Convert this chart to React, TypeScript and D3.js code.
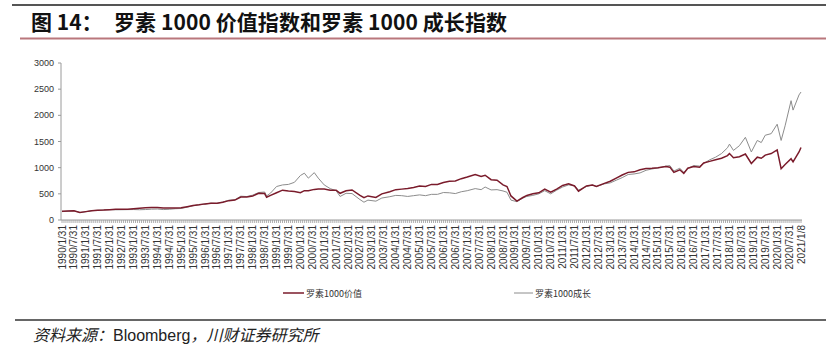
import React from "react";
import * as d3 from "d3";

const dates = [
  "1990-01","1990-04","1990-07","1990-10","1991-01","1991-04","1991-07","1991-10",
  "1992-01","1992-04","1992-07","1992-10","1993-01","1993-04","1993-07","1993-10",
  "1994-01","1994-04","1994-07","1994-10","1995-01","1995-04","1995-07","1995-10",
  "1996-01","1996-04","1996-07","1996-10","1997-01","1997-04","1997-07","1997-10",
  "1998-01","1998-04","1998-07","1998-08","1998-10","1999-01","1999-04","1999-07","1999-10",
  "2000-01","2000-03","2000-05","2000-08","2000-10","2001-01","2001-04","2001-07","2001-09","2001-12",
  "2002-03","2002-07","2002-09","2002-11","2003-03","2003-06","2003-10",
  "2004-01","2004-04","2004-07","2004-10","2005-01","2005-04","2005-07","2005-10",
  "2006-01","2006-04","2006-07","2006-10","2007-01","2007-05","2007-08","2007-10",
  "2008-01","2008-04","2008-07","2008-09","2008-11","2009-02","2009-05","2009-07","2009-10",
  "2010-01","2010-04","2010-07","2010-10","2011-01","2011-04","2011-07","2011-09",
  "2012-01","2012-04","2012-06","2012-10","2013-01","2013-04","2013-07","2013-10",
  "2014-01","2014-04","2014-07","2014-10","2015-01","2015-05","2015-07","2015-09","2015-12",
  "2016-02","2016-04","2016-07","2016-10","2016-12","2017-03","2017-06","2017-09","2017-12",
  "2018-01","2018-03","2018-06","2018-09","2018-12","2019-03","2019-05","2019-07","2019-10",
  "2020-01","2020-03","2020-05","2020-08","2020-09","2020-12","2021-01-08"
];

const valueIdx = [
  165,172,178,142,160,178,185,190,
  198,205,205,205,215,225,232,240,
  240,228,230,230,235,255,275,290,
  308,318,318,340,370,380,440,440,
  460,510,505,435,470,520,570,555,545,
  520,560,560,585,590,590,570,570,510,560,
  575,470,425,460,430,500,540,
  580,590,600,620,650,640,680,680,
  715,740,745,790,820,870,830,855,
  770,760,670,640,460,360,430,470,500,
  520,590,530,590,660,690,650,550,
  650,670,640,700,740,800,860,910,
  920,960,985,990,1000,1020,1010,910,960,
  890,990,1020,1010,1090,1120,1150,1180,1230,
  1270,1190,1210,1260,1080,1200,1180,1240,1270,
  1340,980,1060,1170,1110,1300,1385
];

const growthIdx = [
  160,168,175,142,158,180,185,192,
  198,195,196,198,200,196,200,207,
  210,200,205,215,220,245,272,292,
  305,322,315,345,378,385,455,448,
  475,525,535,460,515,640,670,680,720,
  850,895,800,905,800,670,600,560,450,510,
  505,390,340,380,360,420,445,
  470,465,450,465,480,465,490,490,
  525,520,505,540,560,600,580,630,
  575,580,555,530,380,350,420,450,470,
  500,560,500,570,630,670,655,570,
  640,670,640,690,710,760,810,870,
  880,900,950,975,995,1030,1040,935,990,
  910,985,1040,1030,1080,1150,1200,1270,1380,
  1450,1330,1420,1580,1300,1520,1480,1620,1650,
  1830,1520,1800,2280,2100,2390,2445
];

const xTickLabels = [
  "1990/1/31","1990/7/31","1991/1/31","1991/7/31","1992/1/31","1992/7/31",
  "1993/1/31","1993/7/31","1994/1/31","1994/7/31","1995/1/31","1995/7/31",
  "1996/1/31","1996/7/31","1997/1/31","1997/7/31","1998/1/31","1998/7/31",
  "1999/1/31","1999/7/31","2000/1/31","2000/7/31","2001/1/31","2001/7/31",
  "2002/1/31","2002/7/31","2003/1/31","2003/7/31","2004/1/31","2004/7/31",
  "2005/1/31","2005/7/31","2006/1/31","2006/7/31","2007/1/31","2007/7/31",
  "2008/1/31","2008/7/31","2009/1/31","2009/7/31","2010/1/31","2010/7/31",
  "2011/1/31","2011/7/31","2012/1/31","2012/7/31","2013/1/31","2013/7/31",
  "2014/1/31","2014/7/31","2015/1/31","2015/7/31","2016/1/31","2016/7/31",
  "2017/1/31","2017/7/31","2018/1/31","2018/7/31","2019/1/31","2019/7/31",
  "2020/1/31","2020/7/31","2021/1/8"
];

const yTicks = [0, 500, 1000, 1500, 2000, 2500, 3000];
const seriesNames = ["罗素1000价值", "罗素1000成长"];

const monthIndex = (s: string) => {
  const [y, m] = s.split("-").map(Number);
  return (y - 1990) * 12 + (m - 1);
};
const labelMonth = (s: string) => {
  const [y, m] = s.split("/").map(Number);
  return (y - 1990) * 12 + (m - 1);
};

export default function App() {
  const W = 840, H = 348;
  const x = d3.scaleLinear().domain([0, 372]).range([62, 801]);
  const y = d3.scaleLinear().domain([0, 3000]).range([220, 63]);

  const valData = dates.map((d, i) => ({ m: monthIndex(d), v: valueIdx[i] }));
  const groData = dates.map((d, i) => ({ m: monthIndex(d), v: growthIdx[i] }));
  const line = d3.line<{ m: number; v: number }>().x(d => x(d.m)).y(d => y(d.v));

  const months = d3.range(0, 373);
  const valColor = "#7a1b2b";
  const groColor = "#8c8c8c";
  const axisColor = "#9a9a9a";
  const cjk = "'Noto Sans CJK SC', sans-serif";

  return (
    <svg width={W} height={H} style={{ position: "absolute", left: 0, top: 0, background: "#fff" }}>
      <line x1={12} x2={826} y1={5} y2={5} stroke="#555" strokeWidth={2} />
      <text x={31} y={30} fontFamily={cjk} fontWeight={700} fontSize={21} fill="#111">图 14：</text>
      <text x={114} y={30} fontFamily={cjk} fontWeight={700} fontSize={21} fill="#111"
        textLength={393} lengthAdjust="spacing">
        罗素 1000 价值指数和罗素 1000 成长指数
      </text>
      <line x1={20} x2={826} y1={38.5} y2={38.5} stroke="#b9777c" strokeWidth={2} />

      {/* y axis */}
      <line x1={61} x2={61} y1={y(3000)} y2={y(0)} stroke={axisColor} />
      {yTicks.map(t => (
        <g key={t}>
          <line x1={58} x2={61} y1={y(t)} y2={y(t)} stroke={axisColor} />
          <text x={54} y={y(t) + 3} textAnchor="end" fontFamily="'Liberation Sans', Arial, sans-serif" fontSize={9} fill="#333">
            {t}
          </text>
        </g>
      ))}

      {/* x axis */}
      <line x1={61} x2={802} y1={y(0)} y2={y(0)} stroke={axisColor} />
      {months.map(m => (
        <line key={m} x1={x(m)} x2={x(m)} y1={y(0)} y2={y(0) + 3} stroke={axisColor} strokeWidth={0.8} />
      ))}
      {xTickLabels.map(l => {
        const px = x(labelMonth(l));
        return (
          <text key={l} transform={`translate(${px + 3.5},${y(0) + 5}) rotate(-90)`} textAnchor="end"
            fontFamily="'Liberation Sans', Arial, sans-serif" fontSize={10} fill="#333">
            {l}
          </text>
        );
      })}

      {/* lines */}
      <path d={line(groData) || ""} fill="none" stroke={groColor} strokeWidth={1} />
      <path d={line(valData) || ""} fill="none" stroke={valColor} strokeWidth={1.5} />

      {/* legend */}
      <line x1={283} x2={304} y1={293} y2={293} stroke={valColor} strokeWidth={1.5} />
      <text x={306} y={296.5} fontFamily={cjk} fontSize={9} fill="#333">{seriesNames[0]}</text>
      <line x1={514} x2={533} y1={293} y2={293} stroke={groColor} strokeWidth={1} />
      <text x={535} y={296.5} fontFamily={cjk} fontSize={9} fill="#333">{seriesNames[1]}</text>

      <line x1={15} x2={826} y1={320} y2={320} stroke="#666" strokeWidth={2} />
      <text x={33} y={341} fontSize={16} fill="#222">
        <tspan fontFamily={cjk} fontStyle="italic">资料来源：</tspan>
        <tspan fontFamily="'Liberation Sans', Arial, sans-serif">Bloomberg</tspan>
        <tspan fontFamily={cjk} fontStyle="italic">，川财证券研究所</tspan>
      </text>
    </svg>
  );
}
